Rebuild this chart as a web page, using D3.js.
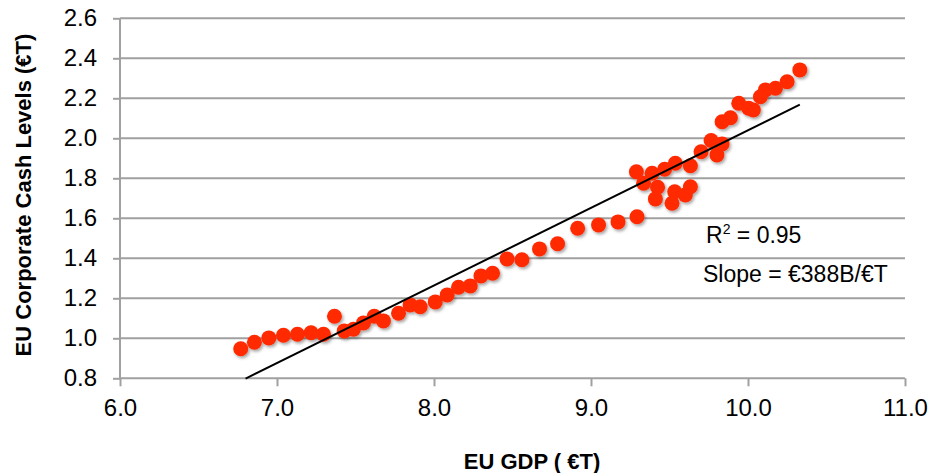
<!DOCTYPE html>
<html>
<head>
<meta charset="utf-8">
<script src="https://cdn.jsdelivr.net/npm/d3@7/dist/d3.min.js"></script>
<style>
  html, body { margin: 0; padding: 0; background: #fff; }
  svg { display: block; font-family: "Liberation Sans", Arial, sans-serif; }
</style>
</head>
<body>
<svg id="chart" width="935" height="473"></svg>
<script>
// ---- data ----
const gdp = [6.769, 6.856, 6.948, 7.041, 7.130, 7.217, 7.296, 7.366, 7.428, 7.487,
  7.551, 7.619, 7.678, 7.774, 7.848, 7.912, 8.008, 8.084, 8.156, 8.231,
  8.299, 8.373, 8.465, 8.560, 8.672, 8.787, 8.915, 9.048, 9.172, 9.293,
  9.289, 9.335, 9.389, 9.424, 9.410, 9.469, 9.533, 9.516, 9.537, 9.633,
  9.633, 9.601, 9.701, 9.765, 9.802, 9.835, 9.835, 9.888, 9.941, 10.004,
  10.034, 10.079, 10.111, 10.175, 10.249, 10.330];
const cash = [0.948, 0.980, 1.002, 1.015, 1.020, 1.028, 1.020, 1.110, 1.037, 1.045,
  1.077, 1.110, 1.087, 1.125, 1.167, 1.158, 1.182, 1.217, 1.255, 1.262,
  1.312, 1.325, 1.397, 1.393, 1.447, 1.473, 1.550, 1.567, 1.582, 1.608,
  1.833, 1.775, 1.825, 1.755, 1.697, 1.845, 1.733, 1.675, 1.875, 1.863,
  1.758, 1.717, 1.933, 1.989, 1.917, 1.972, 2.083, 2.103, 2.175, 2.150,
  2.142, 2.208, 2.242, 2.250, 2.283, 2.342];
const xTicks = [6.0, 7.0, 8.0, 9.0, 10.0, 11.0];
const yTicks = [0.8, 1.0, 1.2, 1.4, 1.6, 1.8, 2.0, 2.2, 2.4, 2.6];
const trendSlope = 0.388;
const trendIntercept = -1.840;
const trendRange = [6.80, 10.33];
const annotations = ["R² = 0.95", "Slope = €388B/€T"];
const xTitle = "EU GDP ( €T)";
const yTitle = "EU Corporate Cash Levels (€T)";

// ---- layout ----
const svg = d3.select("#chart");
const mLeft = 120, mRight = 905, mTop = 18.3, mBottom = 378.3;
const x = d3.scaleLinear().domain([6, 11]).range([mLeft, mRight]);
const y = d3.scaleLinear().domain([0.8, 2.6]).range([mBottom, mTop]);

const defs = svg.append("defs");
const f = defs.append("filter").attr("id", "shadow")
  .attr("x", "-50%").attr("y", "-50%").attr("width", "200%").attr("height", "200%");
f.append("feDropShadow").attr("dx", 1.5).attr("dy", 2).attr("stdDeviation", 1.5)
  .attr("flood-color", "#000").attr("flood-opacity", 0.35);

// gridlines
svg.append("g").selectAll("line").data(yTicks.slice(1)).join("line")
  .attr("x1", mLeft).attr("x2", mRight)
  .attr("y1", d => y(d)).attr("y2", d => y(d))
  .attr("stroke", "#a0a0a0").attr("stroke-width", 2);

// y axis
const yAxis = svg.append("g").attr("transform", `translate(${mLeft},0)`)
  .call(d3.axisLeft(y).tickValues(yTicks).tickFormat(d3.format(".1f")).tickSize(7).tickPadding(16));
yAxis.select(".domain").attr("stroke", "#a0a0a0").attr("stroke-width", 2)
  .attr("d", `M0,${mTop}V${mBottom}`);
yAxis.selectAll(".tick line").attr("stroke", "#a0a0a0").attr("stroke-width", 2);
yAxis.selectAll(".tick text").attr("font-size", 24).attr("fill", "#000")
  .attr("font-family", "Liberation Sans, Arial, sans-serif");

// x axis
const xAxis = svg.append("g").attr("transform", `translate(0,${mBottom})`)
  .call(d3.axisBottom(x).tickValues(xTicks).tickFormat(d3.format(".1f")).tickSize(8).tickPadding(13));
xAxis.select(".domain").attr("stroke", "#a0a0a0").attr("stroke-width", 2)
  .attr("d", `M${mLeft},0H${mRight}`);
xAxis.selectAll(".tick line").attr("stroke", "#a0a0a0").attr("stroke-width", 2);
xAxis.selectAll(".tick text").attr("font-size", 24).attr("fill", "#000")
  .attr("font-family", "Liberation Sans, Arial, sans-serif");

// points
const pts = gdp.map((g, i) => ({ g, c: cash[i] }));
svg.append("g").attr("filter", "url(#shadow)")
  .selectAll("circle").data(pts).join("circle")
  .attr("cx", d => x(d.g)).attr("cy", d => y(d.c)).attr("r", 7.5)
  .attr("fill", "#ff2a00");

// trend line
svg.append("line")
  .attr("x1", x(trendRange[0])).attr("y1", y(trendSlope * trendRange[0] + trendIntercept))
  .attr("x2", x(trendRange[1])).attr("y2", y(trendSlope * trendRange[1] + trendIntercept))
  .attr("stroke", "#000").attr("stroke-width", 2);

// annotations
const r2 = svg.append("text").attr("x", 706).attr("y", 243).attr("font-size", 23).attr("fill", "#000");
r2.append("tspan").text("R");
r2.append("tspan").attr("font-size", 14).attr("dy", -9).text("2");
r2.append("tspan").attr("dy", 9).text(annotations[0].slice(2));
svg.append("text").attr("x", 703).attr("y", 282).attr("font-size", 23).attr("fill", "#000")
  .text(annotations[1]);

// titles
svg.append("text").attr("x", 532).attr("y", 469).attr("text-anchor", "middle")
  .attr("font-size", 22).attr("font-weight", "bold").text(xTitle);
svg.append("text").attr("transform", "translate(31,195) rotate(-90)").attr("text-anchor", "middle")
  .attr("font-size", 22).attr("font-weight", "bold").text(yTitle);
</script>
</body>
</html>
